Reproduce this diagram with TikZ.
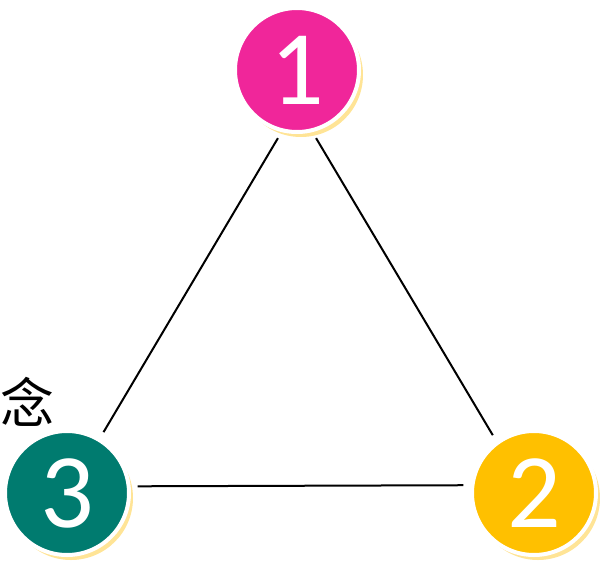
\documentclass[tikz,border=0pt]{standalone}
\usepackage{fontspec}
\setmainfont{Carlito}
\newfontfamily\cjk{Noto Sans CJK SC}
\usetikzlibrary{positioning,shadows}

\definecolor{pinkball}{RGB}{240,38,154}
\definecolor{goldball}{RGB}{255,192,0}
\definecolor{tealball}{RGB}{0,123,111}
\definecolor{paleshadow}{RGB}{255,228,150}

\begin{document}
\begin{tikzpicture}[x=1pt,y=1pt,node distance=100pt,on grid,
    ball/.style={circle,minimum size=124pt,inner sep=0pt,draw=white,line width=4pt,
      text=white,font=\fontsize{106}{106}\selectfont,
      drop shadow={fill=paleshadow,opacity=1,shadow xshift=4pt,shadow yshift=-5pt}},
    line/.style={black,line width=2pt,shorten >=7pt,shorten <=7pt}]
    \useasboundingbox (0,0) rectangle (600,-565);

    \node[ball,fill=tealball] (n3) at (67,-493) {3};
    \node[ball,fill=goldball] (n2) [right=467pt of n3] {2};
    \node[ball,fill=pinkball] (n1) [above right=423pt and 230pt of n3] {1};

    \node[inner sep=0pt,anchor=west,font=\cjk\fontsize{54}{54}\selectfont] (word) at (0,-402) {念};

    \path[line]
    (n1.256) edge (n3.59)
    (n1.284) edge (n2.126)
    (n3.6) edge (n2.173);
\end{tikzpicture}
\end{document}
